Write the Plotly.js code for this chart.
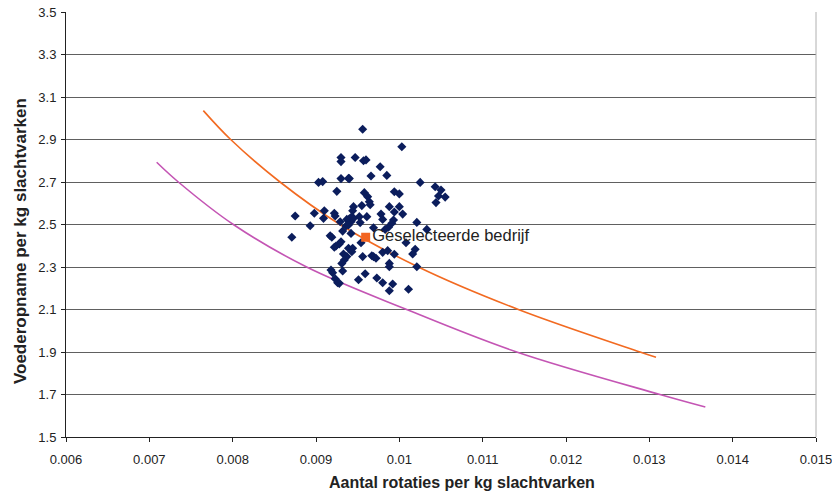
<!DOCTYPE html>
<html><head><meta charset="utf-8">
<script src="https://cdn.plot.ly/plotly-3.0.1.min.js"></script>
<style>body{margin:0;background:#fff}#c{width:832px;height:496px}</style>
</head><body><div id="c"></div>
<script>
const bedrijfX = [0.00956,0.01003,0.00930,0.00930,0.00947,0.00957,0.00960,0.00977,0.00985,0.00966,
0.00930,0.00939,0.00940,0.00903,0.00908,0.01025,0.00925,0.00958,0.00962,0.00964,
0.00965,0.00994,0.01000,0.01043,0.01050,0.01047,0.01055,0.01044,0.00945,0.00955,
0.00988,0.01000,0.00875,0.00898,0.00910,0.00909,0.00922,0.00923,0.00944,0.00943,
0.00940,0.00945,0.00942,0.00937,0.00952,0.00953,0.00961,0.00978,0.00980,0.00994,
0.01004,0.00993,0.00893,0.00929,0.00936,0.00939,0.01021,0.00991,0.00987,0.00983,
0.01033,0.00932,0.00942,0.00871,0.00917,0.00919,0.00954,0.00969,0.01008,0.00930,
0.00928,0.00924,0.00922,0.00939,0.00944,0.00943,0.01019,0.01016,0.00980,0.00986,
0.00994,0.00956,0.00967,0.00969,0.00972,0.00933,0.00937,0.00934,0.00931,0.00988,
0.00988,0.01021,0.00918,0.00920,0.00932,0.00959,0.00951,0.00923,0.00926,0.00928,
0.00973,0.00980,0.00992,0.00988,0.01011];
const bedrijfY = [2.948,2.866,2.815,2.796,2.815,2.800,2.804,2.772,2.731,2.728,
2.716,2.717,2.716,2.698,2.702,2.698,2.656,2.650,2.631,2.607,
2.593,2.654,2.644,2.678,2.662,2.634,2.629,2.603,2.584,2.589,
2.584,2.584,2.540,2.553,2.565,2.529,2.553,2.540,2.565,2.537,
2.527,2.529,2.513,2.524,2.537,2.509,2.537,2.549,2.524,2.559,
2.549,2.521,2.494,2.513,2.493,2.498,2.510,2.506,2.487,2.477,
2.477,2.469,2.458,2.440,2.447,2.440,2.414,2.485,2.414,2.419,
2.408,2.399,2.393,2.388,2.388,2.372,2.383,2.361,2.369,2.377,
2.360,2.349,2.353,2.349,2.341,2.361,2.349,2.333,2.317,2.317,
2.301,2.301,2.286,2.273,2.281,2.268,2.240,2.245,2.226,2.223,
2.248,2.226,2.220,2.188,2.195];

const oranjeX = [0.007648,0.007976,0.008568,0.009288,0.010228,0.011428,0.012888,0.01308];
const oranjeY = [3.036,2.9,2.7,2.5,2.3,2.1,1.9,1.875];

const paarsX = [0.007088,0.007348,0.008008,0.008888,0.010088,0.011408,0.013128,0.013672];
const paarsY = [2.793,2.7,2.5,2.3,2.1,1.9,1.7,1.641];

const geselecteerdX = [0.009596];
const geselecteerdY = [2.440];
const geselecteerdLabel = ['Geselecteerde bedrijf'];

const xTitel = 'Aantal rotaties per kg slachtvarken';
const yTitel = 'Voederopname per kg slachtvarken';

const FONT = 'Liberation Sans, Arial, sans-serif';
const traces = [
 {x: paarsX, y: paarsY, mode:'lines', line:{color:'#c455b4', width:1.6, shape:'spline'}, hoverinfo:'skip'},
 {x: oranjeX, y: oranjeY, mode:'lines', line:{color:'#f26a21', width:1.6, shape:'spline'}, hoverinfo:'skip'},
 {x: bedrijfX, y: bedrijfY, mode:'markers', marker:{symbol:'diamond', size:7, color:'#0b1d5c'}},
 {x: geselecteerdX, y: geselecteerdY, mode:'markers+text', text: geselecteerdLabel, textposition:'middle right',
  textfont:{family:FONT, size:16.5, color:'#222'},
  marker:{symbol:'square', size:9, color:'#f26522'}}
];

const layout = {
 width:832, height:496, showlegend:false,
 margin:{l:66, r:16, t:12, b:59},
 paper_bgcolor:'#fff', plot_bgcolor:'#fff',
 font:{family:FONT, size:12, color:'#222'},
 xaxis:{range:[0.006,0.015], tick0:0.006, dtick:0.001, showgrid:false, zeroline:false,
   showline:true, linecolor:'#222', linewidth:1, ticks:'outside', ticklen:4, tickcolor:'#222',
   tickfont:{size:13}, ticklabelstandoff:6, ticklabeloverflow:'allow'},
 yaxis:{range:[1.5,3.5], tick0:1.5, dtick:0.2, tickformat:'.1f', showgrid:true, gridcolor:'#606060', gridwidth:1,
   zeroline:false, showline:true, linecolor:'#222', linewidth:1, ticks:'outside', ticklen:4, tickcolor:'#222',
   tickfont:{size:13}, ticklabelstandoff:2},
 annotations:[
   {text:xTitel, xref:'paper', yref:'paper', x:0.528, y:-0.106, xanchor:'center', yanchor:'middle', showarrow:false,
    font:{size:16, family:FONT, weight:'bold', color:'#222'}},
   {text:yTitel, xref:'paper', yref:'paper', x:0, xshift:-46, y:0.461, xanchor:'center', yanchor:'middle', showarrow:false,
    textangle:-90, font:{size:17, family:FONT, weight:'bold', color:'#222'}}
 ],
 shapes:[{type:'line', xref:'paper', yref:'paper', x0:1, x1:1, y0:0, y1:1, line:{color:'#b0b0b0', width:1}}]
};
Plotly.newPlot('c', traces, layout, {displayModeBar:false, staticPlot:true});
</script></body></html>
